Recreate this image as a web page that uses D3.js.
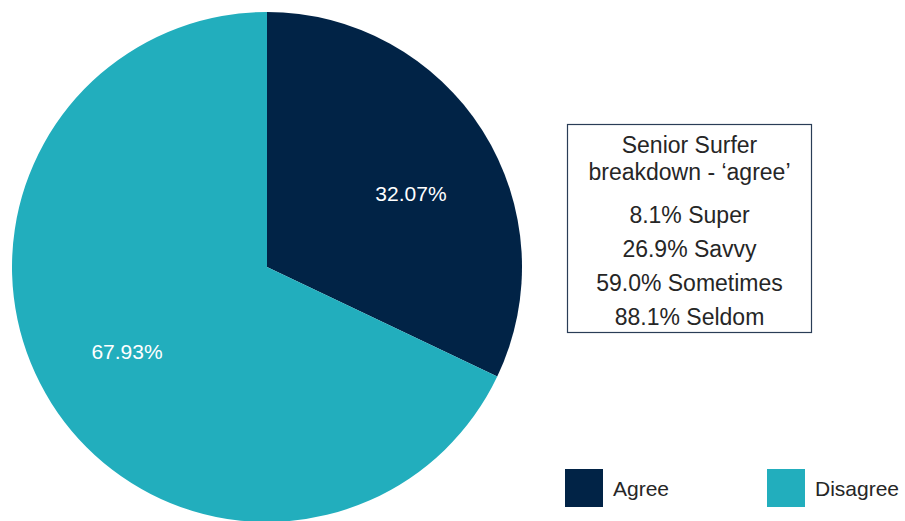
<!DOCTYPE html>
<html><head><meta charset="utf-8">
<script src="https://cdn.jsdelivr.net/npm/d3@7"></script>
<style>body{margin:0;background:#fff}svg{display:block}</style>
</head><body>
<svg id="c" width="905" height="521"></svg>
<script>
const categories = ["Agree", "Disagree"];
const values = [32.07, 67.93];
const colors = ["#012346", "#22AEBD"];
const boxTitle = ["Senior Surfer", "breakdown - \u2018agree\u2019"];
const boxLines = ["8.1% Super", "26.9% Savvy", "59.0% Sometimes", "88.1% Seldom"];

const svg = d3.select("#c");
const font = "'Liberation Sans', Arial, sans-serif";
const cx = 267, cy = 267, R = 255;
const g = svg.append("g").attr("transform", `translate(${cx},${cy})`);
const pie = d3.pie().sort(null).value(d => d)(values);
const arc = d3.arc().innerRadius(0).outerRadius(R);
const labelArc = d3.arc().innerRadius(162).outerRadius(162);
const nudge = [[7, 13], [-3, -2]];
g.selectAll("path").data(pie).join("path")
  .attr("d", arc).attr("fill", (d, i) => colors[i]);
g.selectAll("text").data(pie).join("text")
  .attr("transform", (d, i) => {
    const c = labelArc.centroid(d);
    return `translate(${c[0] + nudge[i][0]},${c[1] + nudge[i][1]})`;
  })
  .attr("text-anchor", "middle").attr("dy", "0.35em")
  .attr("fill", "#fff").style("font-family", font).style("font-size", "21px")
  .text(d => d.data.toFixed(2) + "%");

// info box
svg.append("rect").attr("x", 567.5).attr("y", 124.5).attr("width", 244).attr("height", 208)
  .attr("fill", "#fff").attr("stroke", "#2a3d57").attr("stroke-width", 1.2);
const bx = 689.5;
const ys = [153, 180, 223, 257, 291, 325];
boxTitle.concat(boxLines).forEach((t, i) => {
  svg.append("text").attr("x", bx).attr("y", ys[i]).attr("text-anchor", "middle")
    .attr("fill", "#262626").style("font-family", font).style("font-size", "23px").text(t);
});

// legend
const lx = [565, 767];
categories.forEach((c, i) => {
  svg.append("rect").attr("x", lx[i]).attr("y", 469).attr("width", 38).attr("height", 38).attr("fill", colors[i]);
  svg.append("text").attr("x", lx[i] + 48).attr("y", 496).attr("fill", "#262626")
    .style("font-family", font).style("font-size", "21px").text(c);
});
</script>
</body></html>
